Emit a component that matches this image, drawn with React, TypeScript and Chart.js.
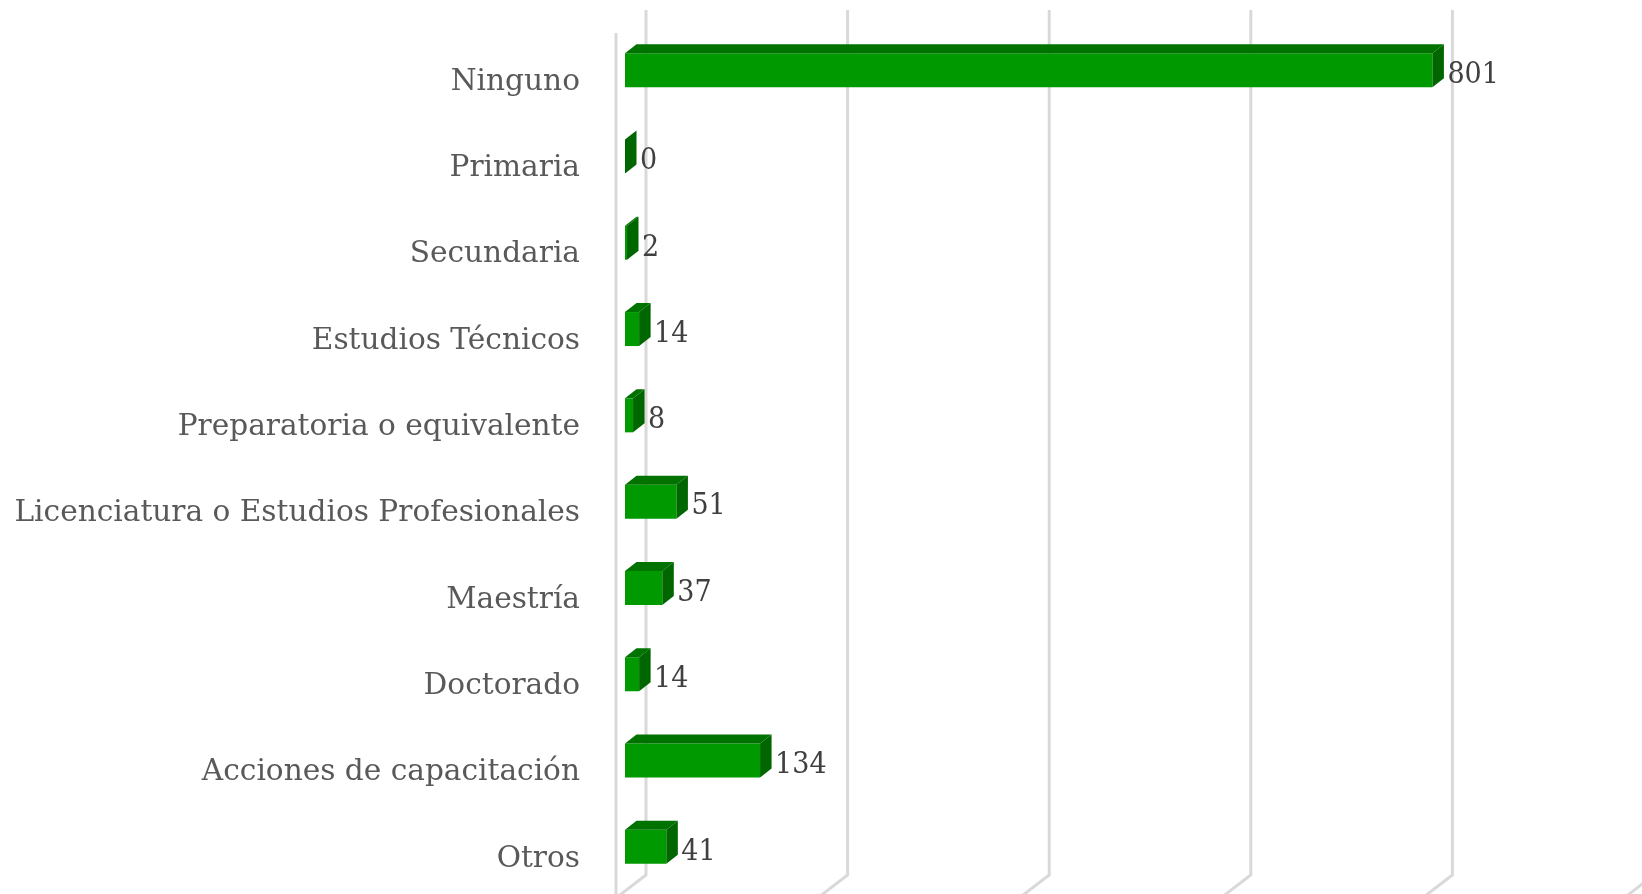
import React, { useEffect, useRef } from "react";
import { Chart, registerables } from "chart.js";

Chart.register(...registerables);

const categories = [
  "Ninguno",
  "Primaria",
  "Secundaria",
  "Estudios Técnicos",
  "Preparatoria o equivalente",
  "Licenciatura o Estudios Profesionales",
  "Maestría",
  "Doctorado",
  "Acciones de capacitación",
  "Otros",
];
const values = [801, 0, 2, 14, 8, 51, 37, 14, 134, 41];
const gridValues = [0, 200, 400, 600, 800, 1000];

const LABEL_FONT = "'DejaVu Serif', serif";
const VALUE_FONT = "'DejaVu Serif Condensed', 'DejaVu Serif', serif";
const BAR_DX = 11.5;
const BAR_DY = 9;
const WALL_DX = 21;
const FLOOR_DX = 30;
const FLOOR_DY = 23;

const wallPlugin = {
  id: "wall3d",
  beforeDatasetsDraw(chart: any) {
    const { ctx, chartArea, scales } = chart;
    const top = chartArea.top - 17;
    const bottom = chartArea.bottom - 15;
    ctx.save();
    ctx.strokeStyle = "#d9d9d9";
    ctx.lineWidth = 3;
    gridValues.forEach((v) => {
      const x = scales.x.getPixelForValue(v) + WALL_DX;
      ctx.beginPath();
      ctx.moveTo(x, top);
      ctx.lineTo(x, bottom);
      ctx.lineTo(x - FLOOR_DX, bottom + FLOOR_DY);
      ctx.stroke();
    });
    const x0 = scales.x.getPixelForValue(0) + WALL_DX - FLOOR_DX;
    ctx.beginPath();
    ctx.moveTo(x0, top + FLOOR_DY);
    ctx.lineTo(x0, bottom + FLOOR_DY);
    ctx.stroke();
    ctx.restore();
  },
};

const bar3dPlugin = {
  id: "bar3d",
  afterDatasetsDraw(chart: any) {
    const { ctx } = chart;
    const meta = chart.getDatasetMeta(0);
    ctx.save();
    meta.data.forEach((bar: any, i: number) => {
      const { x, y, base, height } = bar.getProps(["x", "y", "base", "height"], true);
      const t = y - height / 2;
      const b = y + height / 2;
      ctx.fillStyle = "#007200";
      ctx.beginPath();
      ctx.moveTo(base, t);
      ctx.lineTo(base + BAR_DX, t - BAR_DY);
      ctx.lineTo(x + BAR_DX, t - BAR_DY);
      ctx.lineTo(x, t);
      ctx.closePath();
      ctx.fill();
      ctx.fillStyle = "#006600";
      ctx.beginPath();
      ctx.moveTo(x, t);
      ctx.lineTo(x + BAR_DX, t - BAR_DY);
      ctx.lineTo(x + BAR_DX, b - BAR_DY);
      ctx.lineTo(x, b);
      ctx.closePath();
      ctx.fill();
      ctx.fillStyle = "#404040";
      ctx.font = `30px ${VALUE_FONT}`;
      ctx.textAlign = "left";
      ctx.textBaseline = "middle";
      ctx.fillText(String(values[i]), x + BAR_DX + 3.5, y + 5);
    });
    ctx.restore();
  },
};

export default function App() {
  const ref = useRef<HTMLCanvasElement>(null);
  useEffect(() => {
    document.body.style.margin = "0";
    const chart = new Chart(ref.current as HTMLCanvasElement, {
      type: "bar",
      data: {
        labels: categories,
        datasets: [
          {
            data: values,
            backgroundColor: "#009900",
            barPercentage: 0.394,
            categoryPercentage: 1,
          },
        ],
      },
      options: {
        indexAxis: "y",
        animation: false,
        responsive: false,
        layout: { padding: { top: 27, bottom: 4, right: 9, left: 0 } },
        plugins: { legend: { display: false }, tooltip: { enabled: false }, title: { display: false } },
        scales: {
          x: {
            display: false,
            min: 0,
            max: 1000,
            grid: { display: false },
          },
          y: {
            afterFit: (s: any) => {
              s.width = 625;
              s.paddingTop = 0;
              s.paddingBottom = 0;
            },
            border: { display: false },
            grid: { display: false, drawTicks: false },
            ticks: {
              color: "#595959",
              font: { family: LABEL_FONT, size: 29.6 },
              padding: 45,
              labelOffset: 12,
              autoSkip: false,
              maxRotation: 0,
              minRotation: 0,
            },
          },
        },
      },
      plugins: [wallPlugin, bar3dPlugin],
    } as any);
    return () => chart.destroy();
  }, []);
  return <canvas ref={ref} width={1642} height={894} style={{ display: "block" }} />;
}
